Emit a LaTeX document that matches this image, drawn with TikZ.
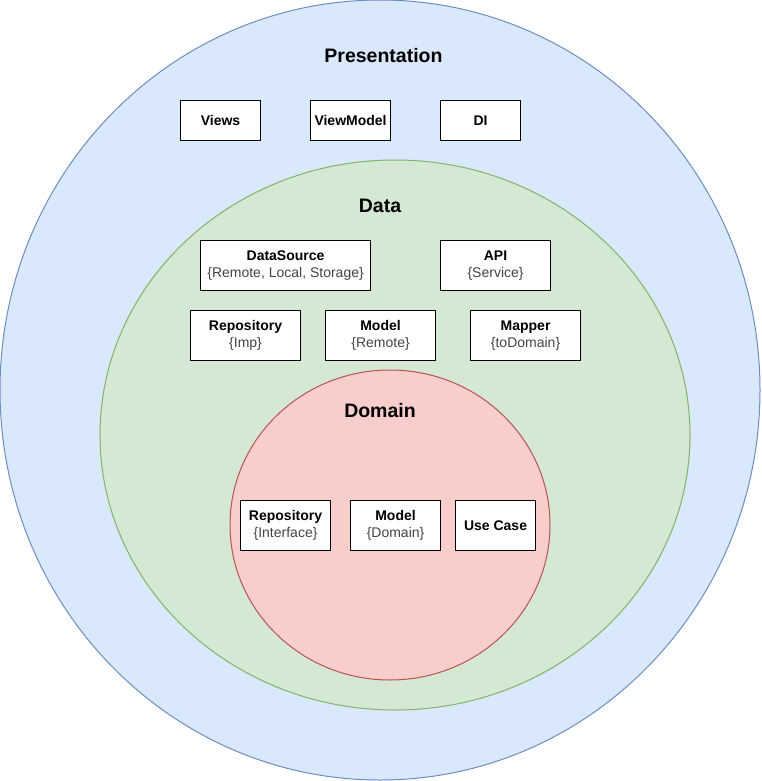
\documentclass[tikz,border=0pt]{standalone}
\usepackage{fontspec}
\setmainfont{Liberation Sans}
\usetikzlibrary{shapes.geometric}
\definecolor{pfill}{HTML}{DAE8FC}\definecolor{pline}{HTML}{6C8EBF}
\definecolor{dfill}{HTML}{D5E8D4}\definecolor{dline}{HTML}{82B366}
\definecolor{mfill}{HTML}{F8CECC}\definecolor{mline}{HTML}{B85450}
\definecolor{subtxt}{HTML}{444444}
\tikzset{
  layer/.style={ellipse,draw,line width=1pt,inner sep=0pt},
  title/.style={font=\fontsize{19.5}{22}\selectfont\bfseries},
  box/.style={draw=black,line width=1.1pt,fill=white,anchor=north west,inner sep=0pt,align=center,font=\fontsize{14}{17.5}\selectfont},
}
\newcommand{\bx}[2]{\textbf{#1}\\\textcolor{subtxt}{#2}}
\newcommand{\bt}[1]{\textbf{#1}}
\begin{document}
\begin{tikzpicture}[x=1pt,y=-1pt]
\useasboundingbox (0,0) rectangle (761,781);
\node[layer,fill=pfill,draw=pline,minimum width=760pt,minimum height=780pt] (pres) at (380,390) {};
\node[layer,fill=dfill,draw=dline,minimum width=590pt,minimum height=550pt] (data) at (395,435) {};
\node[layer,fill=mfill,draw=mline,minimum width=320pt,minimum height=310pt] (dom) at (390,525) {};
\node[title] (tpres) at (383.5,56) {Presentation};
\node[title] (tdata) at (380,206) {Data};
\node[title] (tdom) at (380,411) {Domain};
% presentation boxes
\node[box,minimum width=80pt,minimum height=40pt] (views) at (180,100) {\bt{Views}};
\node[box,minimum width=80pt,minimum height=40pt] (vm) at (310,100) {\bt{ViewModel}};
\node[box,minimum width=80pt,minimum height=40pt] (di) at (440,100) {\bt{DI}};
% data boxes
\node[box,minimum width=170pt,minimum height=50pt] (ds) at (200,240) {\bx{DataSource}{\{Remote, Local, Storage\}}};
\node[box,minimum width=110pt,minimum height=50pt] (api) at (440,240) {\bx{API}{\{Service\}}};
\node[box,minimum width=110pt,minimum height=50pt] (repimp) at (190,310) {\bx{Repository}{\{Imp\}}};
\node[box,minimum width=110pt,minimum height=50pt] (modrem) at (325,310) {\bx{Model}{\{Remote\}}};
\node[box,minimum width=110pt,minimum height=50pt] (mapper) at (470,310) {\bx{Mapper}{\{toDomain\}}};
% domain boxes
\node[box,minimum width=90pt,minimum height=50pt] (repint) at (240,500) {\bx{Repository}{\{Interface\}}};
\node[box,minimum width=90pt,minimum height=50pt] (moddom) at (350,500) {\bx{Model}{\{Domain\}}};
\node[box,minimum width=80pt,minimum height=50pt] (uc) at (455,500) {\bt{Use Case}};
\end{tikzpicture}
\end{document}
